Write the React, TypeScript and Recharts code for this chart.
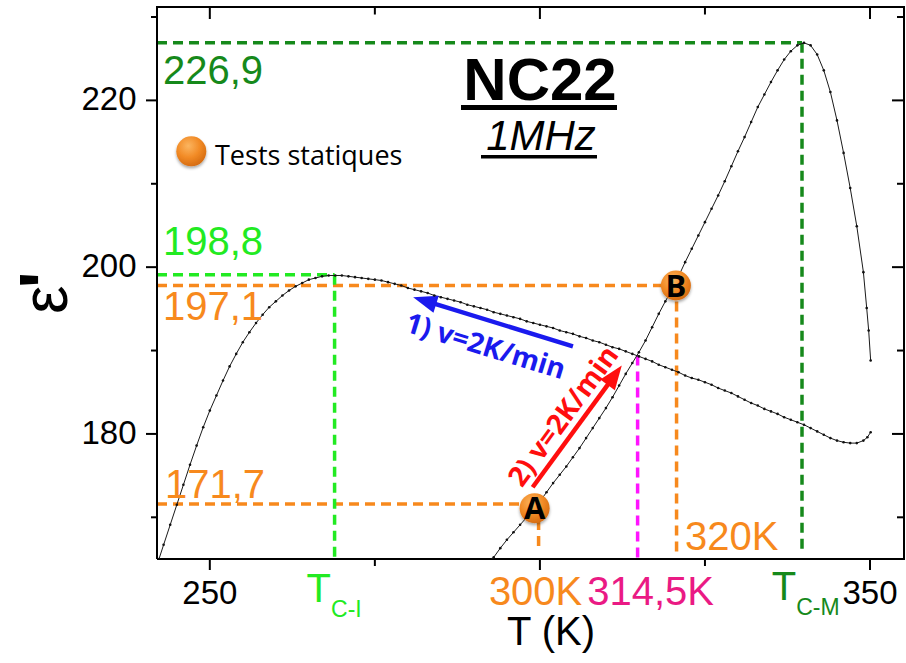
import React from 'react';
import { LineChart, Line, XAxis, YAxis, ReferenceLine, ReferenceDot } from 'recharts';

// ---------------- data ----------------
const coolingT = [242.3, 243, 244, 245, 246, 247, 248, 249, 250, 251, 252, 253, 254, 255, 256, 257, 258, 259, 260,
  261, 262, 263, 264, 265, 266, 267, 268, 269, 270, 271, 272, 273, 274, 275, 276, 277, 278, 279, 280,
  281, 282, 283, 284, 285, 286, 287, 288, 289, 290, 291, 292, 293, 294, 295, 296, 297, 298, 299, 300,
  301, 302, 303, 304, 305, 306, 307, 308, 309, 310, 311, 312, 313, 314, 315, 316, 317, 318, 319, 320,
  321, 322, 323, 324, 325, 326, 327, 328, 329, 330, 331, 332, 333, 334, 335, 336, 337, 338, 339, 340,
  341, 342, 343, 344, 345, 346, 347, 348, 349, 349.6, 350.1];
const coolingEps = [165.0, 166.7, 169.1, 171.5, 173.9, 176.3, 178.6, 180.8, 182.8, 184.6, 186.4, 188.1, 189.6, 191.0, 192.2, 193.3, 194.3, 195.2, 195.9,
  196.6, 197.2, 197.7, 198.1, 198.5, 198.7, 198.9, 199.0, 199.0, 199.0, 198.9, 198.8, 198.7, 198.6, 198.5, 198.4, 198.2, 198.0, 197.8, 197.5,
  197.3, 197.1, 196.9, 196.6, 196.4, 196.2, 196.0, 195.8, 195.5, 195.3, 195.1, 194.9, 194.6, 194.4, 194.2, 194.0, 193.8, 193.5, 193.3, 193.1,
  192.9, 192.7, 192.4, 192.2, 192.0, 191.7, 191.5, 191.2, 191.0, 190.7, 190.4, 190.2, 189.9, 189.6, 189.3, 189.0, 188.7, 188.3, 188.0, 187.7,
  187.4, 187.0, 186.7, 186.5, 186.2, 185.9, 185.5, 185.2, 184.9, 184.5, 184.1, 183.7, 183.4, 183.0, 182.7, 182.4, 182.0, 181.7, 181.4, 181.1,
  180.7, 180.3, 179.9, 179.5, 179.2, 179.0, 178.9, 178.9, 179.2, 179.6, 180.2];

const heatingT = [292.8, 293, 294, 295, 296, 297, 298, 299, 300, 301, 302, 303, 304, 305, 306, 307, 308, 309, 310,
  311, 312, 313, 314, 315, 316, 317, 318, 319, 320, 321, 322, 323, 324, 325, 326, 327, 328, 329, 330,
  331, 332, 333, 334, 335, 336, 337, 338, 339, 340, 341, 342, 343, 344, 345, 346, 347, 348, 349, 349.5, 349.8, 350.1];
const heatingEps = [165.0, 165.2, 166.3, 167.3, 168.2, 169.1, 170.0, 170.9, 171.9, 173.0, 174.1, 175.1, 176.1, 177.2, 178.3, 179.5, 180.7, 181.9, 183.1,
  184.4, 185.8, 187.2, 188.5, 189.8, 191.2, 192.8, 194.4, 195.9, 197.3, 198.9, 200.6, 202.2, 203.8, 205.4, 207.0, 208.6, 210.3, 212.1, 213.9,
  215.6, 217.4, 219.2, 220.7, 222.2, 223.6, 224.9, 225.9, 226.6, 226.9, 226.6, 225.5, 223.6, 221.0, 217.6, 213.7, 209.5, 204.9, 199.4, 195.1, 192.4, 188.8];

const xDomain = [242, 355.15];
const yDomain = [165, 231.2];
const xTicks = [250, 275, 300, 325, 350];
const yTicks = [170, 180, 190, 200, 210, 220, 230];
const xLabelled = [250, 350];
const yLabelled = [180, 200, 220];

// horizontal guide levels (ε') and where they stop (T)
const levelEps = [226.9, 199.1, 197.8, 171.6];
const levelText = ['226,9', '198,8', '197,1', '171,7'];
const levelEndT = [339.7, 268.9, 320.7, 299.8];

// vertical guide temperatures
const markT = [268.9, 299.8, 314.8, 320.7, 339.7];
const markTopEps = [199.1, 171.6, 189.4, 197.8, 226.9];
const markBottomEps = [165, 166.5, 165, 165.5, 165.8];
const markText = ['T', '300K', '314,5K', '320K', 'T'];
const markSub = ['C-I', '', '', '', 'C-M'];

// static test points
const testT = [299.2, 320.6];
const testEps = [171.1, 197.8];
const testName = ['A', 'B'];

// rate arrows (tail -> head)
const arrowCoolT = [305.0, 280.8];
const arrowCoolEps = [190.5, 196.4];
const arrowHeatT = [298.9, 312.4];
const arrowHeatEps = [173.6, 188.2];
const arrowText = ['1) v=2K/min', '2) v=2K/min'];

const titleText = 'NC22';
const freqText = '1MHz';
const legendText = 'Tests statiques';
const xTitle = 'T (K)';
const yTitleMain = 'ε';
const yTitlePrime = "'";

// ---------------- layout & styles ----------------
const W = 906;
const H = 663;
const M_TOP = 7;
const M_RIGHT = 2;
const Y_AXIS_W = 157;
const X_AXIS_H = 104;
const PLOT_L = Y_AXIS_W;
const PLOT_T = M_TOP;
const PLOT_R = W - M_RIGHT;
const PLOT_B = H - X_AXIS_H;
// linear maps of the plot box, used only for the mirrored frame ticks
const sx = (t: number) => PLOT_L + ((t - xDomain[0]) / (xDomain[1] - xDomain[0])) * (PLOT_R - PLOT_L);
const sy = (e: number) => PLOT_B - ((e - yDomain[0]) / (yDomain[1] - yDomain[0])) * (PLOT_B - PLOT_T);

const FONT = '"Liberation Sans", Arial, Helvetica, sans-serif';
const SANS2 = '"Open Sans", "Noto Sans", sans-serif';
const DARKGREEN = '#16891b';
const LIME = '#22ea22';
const ORANGE = '#f7891d';
const MAGENTA = '#ff14ff';
const PINK = '#ea1a84';
const BLUE = '#1a1aee';
const RED = '#ff0e0e';

const levelColors = [DARKGREEN, LIME, ORANGE, ORANGE];
const levelOffsets = [[6, 41.5], [6, -19.7], [6, 34.5], [8, -5.7]];
const markLineColors = [LIME, ORANGE, MAGENTA, ORANGE, DARKGREEN];
const markTextColors = [LIME, ORANGE, PINK, ORANGE, DARKGREEN];
const markOffsets = [[-28, 42.7], [-3, 46], [13, 46], [8.4, -9], [-30.3, 41]];
const markAnchor = ['start', 'middle', 'middle', 'start', 'start'];

const BottomTick = (p: any) => {
  const v = p.payload.value;
  const major = v % 50 === 0;
  return (
    <g>
      <line x1={p.x} x2={p.x} y1={p.y} y2={p.y + (major ? 11 : 7)} stroke="#000" strokeWidth={2} />
      {xLabelled.includes(v) && (
        <text x={p.x} y={p.y + 45} textAnchor="middle" fontSize={33} fontFamily={FONT} fill="#000">{v}</text>
      )}
    </g>
  );
};
const LeftTick = (p: any) => {
  const v = p.payload.value;
  const major = v % 20 === 0;
  return (
    <g>
      <line x1={p.x - (major ? 11 : 6)} x2={p.x} y1={p.y} y2={p.y} stroke="#000" strokeWidth={2} />
      {yLabelled.includes(v) && (
        <text x={p.x - 20.5} y={p.y + 10} textAnchor="end" fontSize={33} fontFamily={FONT} fill="#000">{v}</text>
      )}
    </g>
  );
};

function makeArrow(color: string, label: string, side: number, offset: number) {
  return (p: any) => {
    const { x1, y1, x2, y2 } = p;
    const dx = x2 - x1;
    const dy = y2 - y1;
    const len = Math.hypot(dx, dy) || 1;
    const ux = dx / len;
    const uy = dy / len;
    const headLen = 24;
    const headHalf = 9;
    const bx = x2 - ux * headLen;
    const by = y2 - uy * headLen;
    const px = -uy;
    const py = ux;
    let ang = (Math.atan2(dy, dx) * 180) / Math.PI;
    if (ang > 90) ang -= 180;
    if (ang < -90) ang += 180;
    const th = (ang * Math.PI) / 180;
    const nx = -Math.sin(th) * side;
    const ny = Math.cos(th) * side;
    const mx = (x1 + x2) / 2 + nx * offset;
    const my = (y1 + y2) / 2 + ny * offset;
    return (
      <g>
        <line x1={x1} y1={y1} x2={bx + ux * 2} y2={by + uy * 2} stroke={color} strokeWidth={4.5} />
        <polygon
          points={`${x2},${y2} ${bx + px * headHalf},${by + py * headHalf} ${bx - px * headHalf},${by - py * headHalf}`}
          fill={color}
        />
        <text
          x={mx}
          y={my}
          transform={`rotate(${ang} ${mx} ${my})`}
          textAnchor="middle"
          dominantBaseline="central"
          fontSize={28}
          fontWeight="bold"
          fontFamily={SANS2}
          fill={color}
        >
          {label}
        </text>
      </g>
    );
  };
}

export default function App() {
  const cooling = coolingT.map((t, i) => ({ t, e: coolingEps[i] }));
  const heating = heatingT.map((t, i) => ({ t, e: heatingEps[i] }));
  const axisLine = { stroke: '#000', strokeWidth: 2 };

  return (
    <div style={{ position: 'absolute', left: 0, top: 0, width: W, height: H, background: '#fff' }}>
      <LineChart width={W} height={H} margin={{ top: M_TOP, right: M_RIGHT, bottom: 0, left: 0 }} style={{ fontFamily: FONT }}>
        <defs>
          <radialGradient id="ballGrad" cx="40%" cy="32%" r="70%">
            <stop offset="0%" stopColor="#fbb560" />
            <stop offset="55%" stopColor="#f28b26" />
            <stop offset="100%" stopColor="#d56b10" />
          </radialGradient>
          <filter id="ballShadow" x="-40%" y="-40%" width="180%" height="180%">
            <feDropShadow dx="0" dy="2" stdDeviation="1.5" floodColor="#000" floodOpacity="0.35" />
          </filter>
        </defs>
        <XAxis
          dataKey="t" type="number" domain={xDomain} allowDataOverflow ticks={xTicks} interval={0}
          height={X_AXIS_H} tickSize={0} tickMargin={0} tickLine={false} axisLine={axisLine} tick={BottomTick}
        />
        <YAxis
          type="number" domain={yDomain} allowDataOverflow ticks={yTicks} interval={0}
          width={Y_AXIS_W} tickSize={0} tickMargin={0} tickLine={false} axisLine={axisLine} tick={LeftTick}
        />

        {levelEps.map((e, i) => (
          <ReferenceLine
            key={'lv' + i}
            segment={[{ x: xDomain[0], y: e }, { x: levelEndT[i], y: e }]}
            stroke={levelColors[i]} strokeWidth={3.5} strokeDasharray="10 6" ifOverflow="visible"
          />
        ))}
        {markT.map((t, i) => (
          <ReferenceLine
            key={'mk' + i}
            segment={[{ x: t, y: markTopEps[i] }, { x: t, y: markBottomEps[i] }]}
            stroke={markLineColors[i]} strokeWidth={3.5} strokeDasharray="10 6" ifOverflow="visible"
          />
        ))}

        <Line data={cooling} dataKey="e" type="linear" stroke="#1a1a1a" strokeWidth={1}
          dot={{ r: 1.3, fill: '#111', stroke: 'none' }} isAnimationActive={false} />
        <Line data={heating} dataKey="e" type="linear" stroke="#1a1a1a" strokeWidth={1}
          dot={{ r: 1.3, fill: '#111', stroke: 'none' }} isAnimationActive={false} />

        <ReferenceLine
          segment={[{ x: arrowCoolT[0], y: arrowCoolEps[0] }, { x: arrowCoolT[1], y: arrowCoolEps[1] }]}
          ifOverflow="visible" shape={makeArrow(BLUE, arrowText[0], 1, 24)}
        />
        <ReferenceLine
          segment={[{ x: arrowHeatT[0], y: arrowHeatEps[0] }, { x: arrowHeatT[1], y: arrowHeatEps[1] }]}
          ifOverflow="visible" shape={makeArrow(RED, arrowText[1], -1, 19)}
        />

        {levelEps.map((e, i) => (
          <ReferenceDot
            key={'lt' + i} x={xDomain[0]} y={e} r={0} ifOverflow="visible"
            shape={(p: any) => (
              <text x={p.cx + levelOffsets[i][0]} y={p.cy + levelOffsets[i][1]} fontSize={40}
                fontFamily={FONT} fill={levelColors[i]}>{levelText[i]}</text>
            )}
          />
        ))}
        {markT.map((t, i) => (
          <ReferenceDot
            key={'mt' + i} x={t} y={yDomain[0]} r={0} ifOverflow="visible"
            shape={(p: any) => (
              <text x={p.cx + markOffsets[i][0]} y={p.cy + markOffsets[i][1]} fontSize={40}
                fontFamily={FONT} fill={markTextColors[i]} textAnchor={markAnchor[i] as any}>
                <tspan>{markText[i]}</tspan>
                {markSub[i] && <tspan fontSize={23} dy={15}>{markSub[i]}</tspan>}
              </text>
            )}
          />
        ))}

        {testT.map((t, i) => (
          <ReferenceDot
            key={'tp' + i} x={t} y={testEps[i]} r={15} ifOverflow="visible"
            shape={(p: any) => (
              <g>
                <circle cx={p.cx} cy={p.cy} r={15} fill="url(#ballGrad)" filter="url(#ballShadow)" />
                <text x={p.cx} y={p.cy + 11} textAnchor="middle" fontSize={31} fontWeight="bold"
                  fontFamily={SANS2} fill="#000">{testName[i]}</text>
              </g>
            )}
          />
        ))}
      </LineChart>

      {/* plot frame: top and right sides as a bordered box */}
      <div
        style={{
          position: 'absolute',
          left: PLOT_L - 1,
          top: PLOT_T - 1,
          width: PLOT_R - PLOT_L + 2,
          height: PLOT_B - PLOT_T + 2,
          borderTop: '2px solid #000',
          borderRight: '2px solid #000',
          boxSizing: 'border-box',
          pointerEvents: 'none',
        }}
      />

      <svg width={W} height={H} style={{ position: 'absolute', left: 0, top: 0, pointerEvents: 'none' }}>
        <defs>
          <radialGradient id="legGrad" cx="40%" cy="32%" r="70%">
            <stop offset="0%" stopColor="#fbb560" />
            <stop offset="55%" stopColor="#f28b26" />
            <stop offset="100%" stopColor="#d56b10" />
          </radialGradient>
          <filter id="legShadow" x="-40%" y="-40%" width="180%" height="180%">
            <feDropShadow dx="0" dy="2" stdDeviation="1.5" floodColor="#000" floodOpacity="0.35" />
          </filter>
        </defs>

        {/* inward ticks on the mirrored top and right sides */}
        <path d={`M${PLOT_L},${PLOT_T} H${PLOT_R} V${PLOT_B}`} fill="none" stroke="#000" strokeWidth={2} />
        {xTicks.map((t) => (
          <rect key={'tt' + t} x={sx(t) - 1} y={PLOT_T} width={2} height={t % 50 === 0 ? 12 : 7.5} fill="#000" />
        ))}
        {yTicks.map((v) => {
          const len = v % 20 === 0 ? 12 : 7;
          return <rect key={'rt' + v} x={PLOT_R - len} y={sy(v) - 1} width={len} height={2} fill="#000" />;
        })}

        <text x={540} y={100} textAnchor="middle" fontSize={60} fontWeight="bold" fontFamily={FONT} fill="#000">{titleText}</text>
        <rect x={461} y={105} width={156} height={5} fill="#000" />
        <text x={541} y={150} textAnchor="middle" fontSize={42} fontStyle="italic" fontFamily={FONT} fill="#000">{freqText}</text>
        <rect x={481} y={155} width={116} height={3.5} fill="#000" />

        <circle cx={191.3} cy={151.3} r={15} fill="url(#legGrad)" filter="url(#legShadow)" />
        <text x={215} y={165} fontSize={27} fontFamily={SANS2} fill="#000">{legendText}</text>

        <text x={551} y={645} textAnchor="middle" fontSize={40} fontFamily={FONT} fill="#000">{xTitle}</text>
        <text x={67} y={314} transform="rotate(-90 67 314)" textAnchor="start" fontSize={64} fontFamily={FONT} fill="#000">
          <tspan>{yTitleMain}</tspan>
          <tspan dx={-3} dy={3} fontSize={72} fontWeight="bold">{yTitlePrime}</tspan>
        </text>
      </svg>
    </div>
  );
}
